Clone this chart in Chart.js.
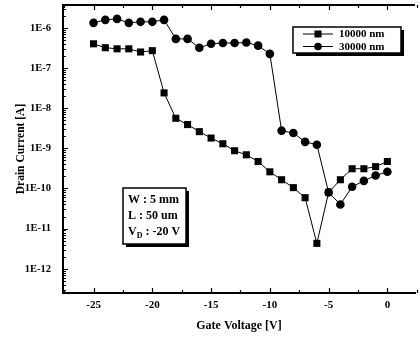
<!DOCTYPE html>
<html>
<head>
<meta charset="utf-8">
<script src="https://cdn.jsdelivr.net/npm/chart.js@4.4.0/dist/chart.umd.min.js"></script>
<style>
  html, body { margin: 0; padding: 0; background: #fff; overflow: hidden; }
</style>
</head>
<body>
<canvas id="chart" width="420" height="338"></canvas>
<script>
// ---- data ----
const gateVoltage = [-25, -24, -23, -22, -21, -20, -19, -18, -17, -16, -15, -14, -13,
                     -12, -11, -10, -9, -8, -7, -6, -5, -4, -3, -2, -1, 0];
const current10000 = [4.0e-7, 3.2e-7, 3.0e-7, 3.0e-7, 2.5e-7, 2.7e-7, 2.4e-8, 5.6e-9, 3.9e-9,
                      2.6e-9, 1.8e-9, 1.3e-9, 8.7e-10, 6.9e-10, 4.7e-10, 2.6e-10, 1.65e-10,
                      1.05e-10, 5.9e-11, 4.3e-12, 8.0e-11, 1.65e-10, 3.1e-10, 3.1e-10, 3.5e-10, 4.7e-10];
const current30000 = [1.33e-6, 1.58e-6, 1.67e-6, 1.33e-6, 1.41e-6, 1.41e-6, 1.58e-6, 5.3e-7, 5.3e-7,
                      3.2e-7, 4.0e-7, 4.2e-7, 4.2e-7, 4.3e-7, 3.6e-7, 2.25e-7, 2.75e-9, 2.4e-9,
                      1.45e-9, 1.23e-9, 8.0e-11, 4.0e-11, 1.1e-10, 1.55e-10, 2.1e-10, 2.6e-10];
const seriesNames = ["10000 nm", "30000 nm"];
const xTicks = [-25, -20, -15, -10, -5, 0];
const yTicks = [1e-12, 1e-11, 1e-10, 1e-9, 1e-8, 1e-7, 1e-6];
const yTickLabels = ["1E-12", "1E-11", "1E-10", "1E-9", "1E-8", "1E-7", "1E-6"];

const serif = "'Liberation Serif', 'Times New Roman', serif";

// inward ticks, top frame line
const framePlugin = {
  id: "frame",
  afterDatasetsDraw(chart) {
    const { ctx, chartArea: a, scales: { x, y } } = chart;
    ctx.save();
    ctx.strokeStyle = "#000";
    ctx.lineWidth = 2;
    ctx.beginPath();
    ctx.moveTo(a.left - 1, a.top);
    ctx.lineTo(a.right, a.top);
    ctx.stroke();

    ctx.lineWidth = 1.2;
    ctx.beginPath();
    // x major + minor
    for (let v = -27.5; v <= 2.5; v += 2.5) {
      const px = Math.round(x.getPixelForValue(v)) + 0.5;
      const len = (v % 5 === 0) ? 5 : 3;
      ctx.moveTo(px, a.bottom);
      ctx.lineTo(px, a.bottom - len);
      ctx.moveTo(px, a.top);
      ctx.lineTo(px, a.top + len);
    }
    // y major + minor
    for (let e = -13; e <= -6; e++) {
      for (let m = 1; m <= 9; m++) {
        const v = m * Math.pow(10, e);
        if (v < y.min || v > y.max) continue;
        const py = Math.round(y.getPixelForValue(v)) + 0.5;
        const len = m === 1 ? 5 : 3;
        ctx.moveTo(a.left, py);
        ctx.lineTo(a.left + len, py);
      }
    }
    ctx.stroke();
    ctx.restore();
  }
};

// legend box and parameter box
const notesPlugin = {
  id: "notes",
  afterDraw(chart) {
    const { ctx } = chart;
    ctx.save();

    function shadowBox(x0, y0, w, h) {
      ctx.fillStyle = "#000";
      ctx.fillRect(x0 + 3, y0 + 3, w, h);
      ctx.fillStyle = "#fff";
      ctx.fillRect(x0, y0, w, h);
      ctx.strokeStyle = "#000";
      ctx.lineWidth = 1.5;
      ctx.strokeRect(x0, y0, w, h);
    }

    // legend
    shadowBox(293, 27, 108, 26);
    ctx.font = "bold 11px " + serif;
    ctx.textBaseline = "middle";
    ctx.textAlign = "left";
    seriesNames.forEach((name, i) => {
      const ly = 34 + i * 12.5;
      ctx.strokeStyle = "#000";
      ctx.lineWidth = 1;
      ctx.beginPath();
      ctx.moveTo(303, ly);
      ctx.lineTo(333, ly);
      ctx.stroke();
      ctx.fillStyle = "#000";
      if (i === 0) {
        ctx.fillRect(314.5, ly - 3.5, 7, 7);
      } else {
        ctx.beginPath();
        ctx.arc(318, ly, 3.8, 0, Math.PI * 2);
        ctx.fill();
      }
      ctx.fillText(name, 339, ly + 0.5);
    });

    // parameters
    shadowBox(123, 188, 63, 56);
    ctx.fillStyle = "#000";
    ctx.font = "bold 12px " + serif;
    ctx.fillText("W : 5 mm", 128, 200);
    ctx.fillText("L : 50 um", 128, 216);
    ctx.fillText("V", 128, 232);
    const vw = ctx.measureText("V").width;
    ctx.font = "bold 8px " + serif;
    ctx.fillText("D", 128 + vw, 236);
    const dw = ctx.measureText("D").width;
    ctx.font = "bold 12px " + serif;
    ctx.fillText(" : -20 V", 128 + vw + dw, 232);

    ctx.restore();
  }
};

new Chart(document.getElementById("chart"), {
  type: "line",
  data: {
    datasets: [
      {
        label: seriesNames[0],
        data: gateVoltage.map((v, i) => ({ x: v, y: current10000[i] })),
        borderColor: "#000",
        backgroundColor: "#000",
        borderWidth: 1,
        pointStyle: "rect",
        pointRadius: 5,
        pointBorderWidth: 0,
        tension: 0
      },
      {
        label: seriesNames[1],
        data: gateVoltage.map((v, i) => ({ x: v, y: current30000[i] })),
        borderColor: "#000",
        backgroundColor: "#000",
        borderWidth: 1,
        pointStyle: "circle",
        pointRadius: 4.3,
        pointBorderWidth: 0,
        tension: 0
      }
    ]
  },
  options: {
    responsive: false,
    animation: false,
    layout: { padding: { top: 5, right: 0, bottom: 0, left: 0 } },
    plugins: { legend: { display: false }, tooltip: { enabled: false } },
    scales: {
      x: {
        type: "linear",
        min: -27.6,
        max: 2.35,
        afterBuildTicks: s => { s.ticks = xTicks.map(v => ({ value: v })); },
        afterFit: s => { s.height = 45; s.paddingLeft = 0; s.paddingRight = 0; },
        grid: { drawOnChartArea: false, drawTicks: false },
        border: { color: "#000", width: 2 },
        ticks: {
          color: "#000",
          padding: 6,
          maxRotation: 0,
          font: { family: serif, size: 11, weight: "bold" },
          callback: v => String(v)
        },
        title: {
          display: true,
          text: "Gate Voltage [V]",
          color: "#000",
          font: { family: serif, size: 12, weight: "bold" },
          padding: { top: 0, bottom: 5 }
        }
      },
      y: {
        type: "logarithmic",
        min: 2.5e-13,
        max: 3.7e-6,
        afterBuildTicks: s => { s.ticks = yTicks.map(v => ({ value: v })); },
        afterFit: s => { s.width = 63; s.paddingTop = 0; s.paddingBottom = 0; },
        grid: { drawOnChartArea: false, drawTicks: false },
        border: { color: "#000", width: 2 },
        ticks: {
          color: "#000",
          padding: 12,
          font: { family: serif, size: 10.5, weight: "bold" },
          callback: (v, i) => yTickLabels[i]
        },
        title: {
          display: true,
          text: "Drain Current [A]",
          color: "#000",
          font: { family: serif, size: 11.5, weight: "bold" },
          padding: { top: 14, bottom: 0 }
        }
      }
    }
  },
  plugins: [framePlugin, notesPlugin]
});
</script>
</body>
</html>
